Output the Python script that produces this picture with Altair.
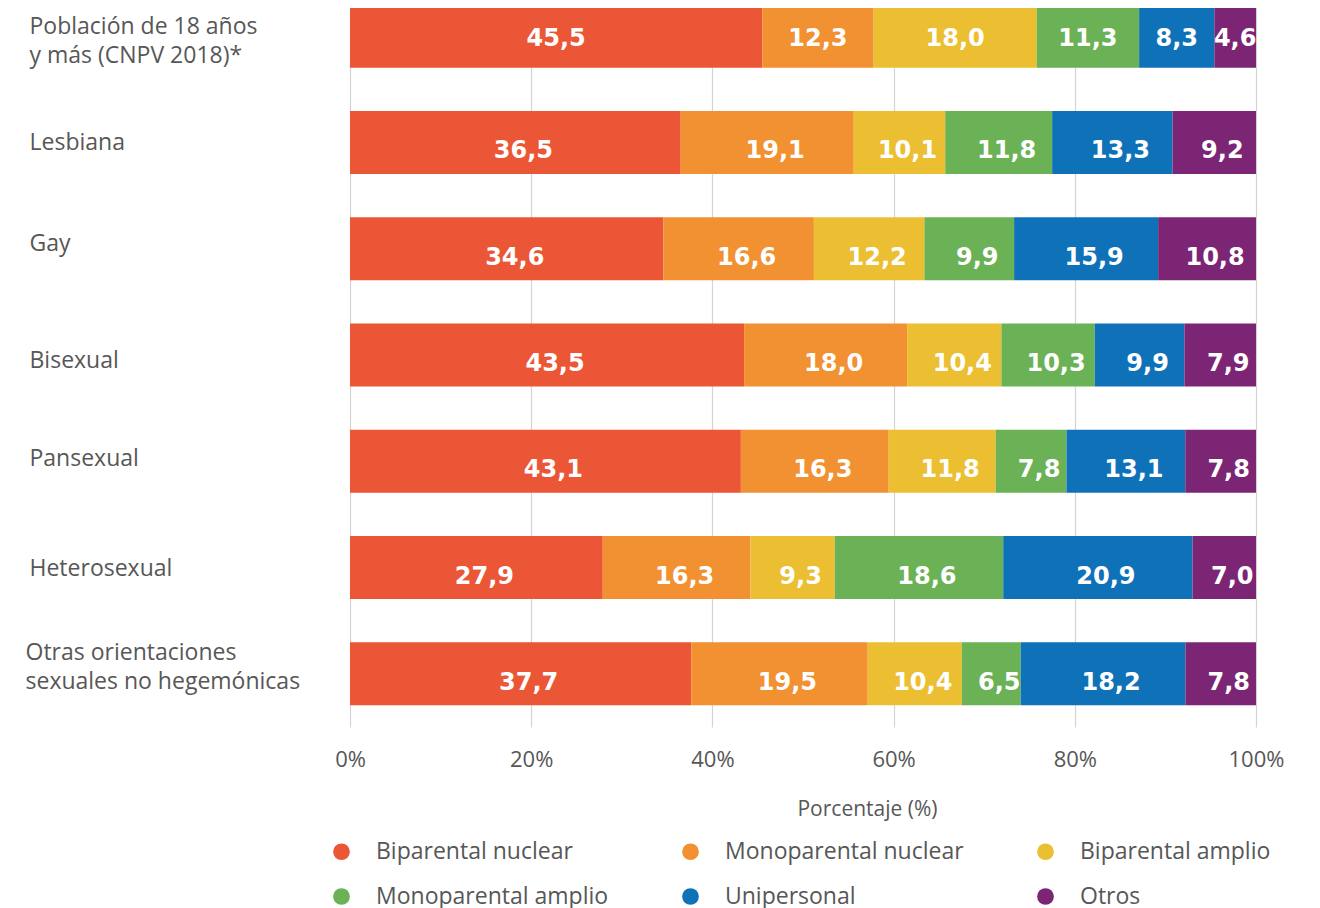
import altair as alt
import pandas as pd

categories = [
    "Población de 18 años|y más (CNPV 2018)*",
    "Lesbiana",
    "Gay",
    "Bisexual",
    "Pansexual",
    "Heterosexual",
    "Otras orientaciones|sexuales no hegemónicas",
]
series = [
    "Biparental nuclear",
    "Monoparental nuclear",
    "Biparental amplio",
    "Monoparental amplio",
    "Unipersonal",
    "Otros",
]
colors = ["#EA5636", "#F19132", "#EBBF31", "#6BB155", "#0F72B9", "#7C2574"]

biparental_nuclear = [45.5, 36.5, 34.6, 43.5, 43.1, 27.9, 37.7]
monoparental_nuclear = [12.3, 19.1, 16.6, 18.0, 16.3, 16.3, 19.5]
biparental_amplio = [18.0, 10.1, 12.2, 10.4, 11.8, 9.3, 10.4]
monoparental_amplio = [11.3, 11.8, 9.9, 10.3, 7.8, 18.6, 6.5]
unipersonal = [8.3, 13.3, 15.9, 9.9, 13.1, 20.9, 18.2]
otros = [4.6, 9.2, 10.8, 7.9, 7.8, 7.0, 7.8]

values = [biparental_nuclear, monoparental_nuclear, biparental_amplio,
          monoparental_amplio, unipersonal, otros]

rows = []
for si, (s, vals) in enumerate(zip(series, values)):
    for ci, (c, v) in enumerate(zip(categories, vals)):
        rows.append({"cat": c, "fila": ci, "serie": s, "orden": si, "valor": v,
                     "etiqueta": f"{v:.1f}".replace(".", ",")})
df = pd.DataFrame(rows)

FONT = "Open Sans"
GRAY = "#575757"

base = alt.Chart(df).transform_stack(
    stack="valor", groupby=["cat"], as_=["x1", "x2"],
    offset="normalize", sort=[alt.SortField("orden", order="ascending")]
).transform_calculate(xm="(datum.x1 + datum.x2) / 2")

y_enc = alt.Y(
    "cat:N", sort=categories, title=None,
    scale=alt.Scale(paddingInner=0.407, paddingOuter=0.2035),
    axis=alt.Axis(
        labelExpr="split(datum.label, '|')",
        labelAlign="left",
        labelPadding={"condition": {"test": "indexof(datum.label, 'Otras') >= 0", "value": 325},
                      "value": 321},
        labelOffset={"condition": [
            {"test": "indexof(datum.label, 'Otras') >= 0", "value": -21},
            {"test": "indexof(datum.label, 'Población') >= 0", "value": -9},
            {"test": "datum.label == 'Gay'", "value": -5},
            {"test": "datum.label == 'Bisexual'", "value": 6},
            {"test": "datum.label == 'Pansexual'", "value": -2},
        ], "value": 1},
        labelLimit=400,
        labelFont=FONT, labelFontSize=23, labelColor=GRAY,
        labelLineHeight=29, labelBaseline="middle",
        ticks=False, domain=False, grid=False,
    ),
)

bars = base.mark_bar().encode(
    x=alt.X(
        "x1:Q", title="Porcentaje (%)",
        scale=alt.Scale(domain=[0, 1], nice=False),
        axis=alt.Axis(
            format=".0%", values=[0, 0.2, 0.4, 0.6, 0.8, 1.0],
            labelFont=FONT, labelFontSize=22, labelColor=GRAY,
            labelPadding=22, labelFlush=False, ticks=False, domain=False,
            grid=True, gridColor="#d4d4d4", gridWidth=1.2,
            titleFont=FONT, titleFontSize=21, titleFontWeight="normal",
            titleColor=GRAY, titleX=517, titleY=71, titleAlign="center",
            titleBaseline="top",
        ),
    ),
    x2="x2:Q",
    y=y_enc,
    color=alt.Color(
        "serie:N", sort=series,
        scale=alt.Scale(domain=series, range=colors),
        legend=alt.Legend(
            title=None, orient="none", legendX=-20, legendY=857,
            direction="horizontal", columns=3, columnPadding=70,
            rowPadding=21, symbolType="circle", symbolSize=280,
            symbolStrokeWidth=0, symbolOffset=0, labelOffset=23,
            labelFont=FONT, labelFontSize=23, labelColor=GRAY,
            labelLimit=400, padding=0,
        ),
    ),
    order=alt.Order("orden:Q"),
)

text_style = dict(font="DejaVu Sans", fontWeight="bold", fontSize=24,
                  color="white", baseline="middle", align="center")
text_enc = dict(x="xm:Q", y=alt.Y("cat:N", sort=categories), text="etiqueta:N")

labels_first = base.transform_filter("datum.fila == 0").mark_text(
    dy=3, **text_style).encode(**text_enc)
labels_rest = base.transform_filter("datum.fila > 0").mark_text(
    dx=8, dy=9, **text_style).encode(**text_enc)

chart = alt.layer(bars, labels_first, labels_rest).properties(
    width=906, height=744,
    padding={"top": -25, "left": 17, "right": 10, "bottom": 0},
).configure_view(stroke=None)

chart.save("out.html", embed_options={"renderer": "svg", "actions": False})
